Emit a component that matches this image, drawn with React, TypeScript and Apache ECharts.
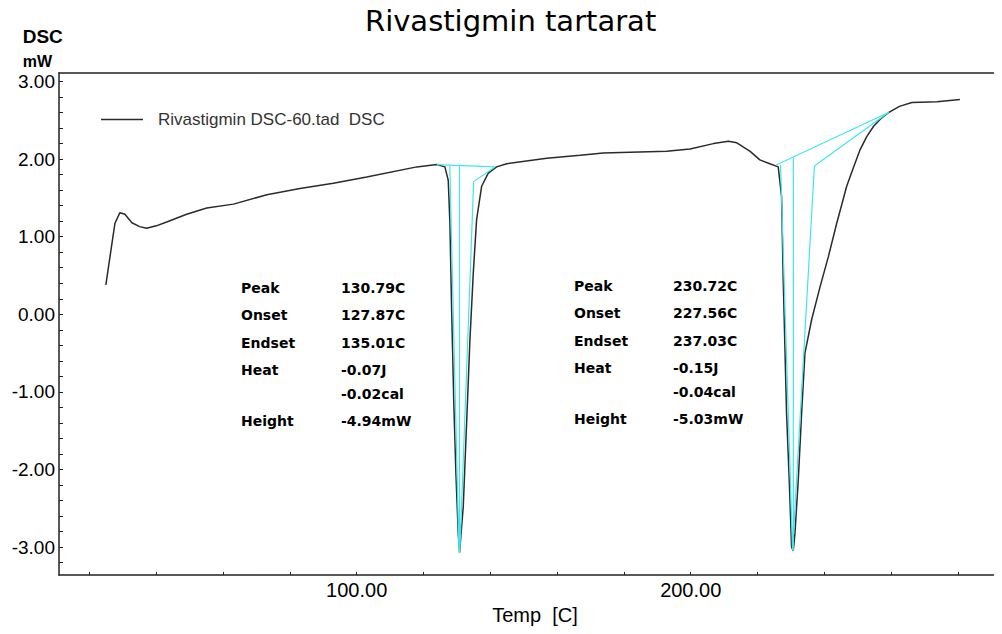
import React, { useEffect, useRef } from "react";
import * as echarts from "echarts";

// ---------- data ----------
const chartTitle = "Rivastigmin tartarat";
const seriesName = "Rivastigmin DSC-60.tad  DSC";
const xAxisName = "Temp  [C]";
const yAxisName = "DSC";
const yAxisUnit = "mW";

// temperature (°C) and DSC signal (mW)
const temps = [
  24.9, 27.6, 29.1, 30.6, 32.7, 35.0, 37.1, 40.0, 43.1, 49.1, 55.1, 63.1, 73.1,
  83.0, 93.0, 103.0, 118.0, 124.0, 126.4, 127.4, 127.9, 128.4, 129.1, 129.7,
  130.4, 130.8, 131.9, 132.9, 133.9, 134.9, 135.9, 137.4, 139.4, 141.9, 144.9,
  156.9, 166.9, 173.8, 192.8, 199.8, 206.8, 211.3, 213.8, 217.8, 220.7, 223.7,
  226.2, 227.2, 227.7, 228.2, 228.7, 229.5, 230.2, 230.7, 231.2, 232.2, 233.2,
  234.2, 236.2, 238.7, 241.2, 243.7, 246.7, 248.7, 250.7, 252.7, 254.7, 256.9,
  259.2, 262.5, 266.2, 273.7, 280.6,
];
const dsc = [
  0.38, 1.17, 1.31, 1.29, 1.18, 1.13, 1.11, 1.14, 1.19, 1.29, 1.37, 1.42, 1.54,
  1.62, 1.69, 1.77, 1.9, 1.93, 1.9, 1.73, 1.18, 0.1, -1.19, -2.05, -2.83, -3.07,
  -2.48, -1.41, -0.33, 0.53, 1.22, 1.65, 1.82, 1.9, 1.94, 2.01, 2.05, 2.08, 2.1,
  2.13, 2.2, 2.23, 2.21, 2.1, 1.99, 1.94, 1.9, 1.52, 0.44, -0.42, -1.28, -2.14,
  -3.0, -3.05, -2.83, -2.14, -1.28, -0.5, -0.07, 0.35, 0.74, 1.17, 1.65, 1.89,
  2.12, 2.29, 2.42, 2.52, 2.6, 2.68, 2.73, 2.74, 2.77,
];

// analysis construction lines (cyan), [temp, mW]
const peak1Baseline = [[124.0, 1.93], [141.4, 1.9]];
const peak1Onset = [[127.87, 1.91], [130.6, -3.04]];
const peak1Vertical = [[130.79, 1.91], [130.79, -3.07]];
const peak1Endset = [[141.4, 1.9], [135.01, 1.71], [130.9, -3.04]];
const peak2Baseline = [[225.6, 1.925], [259.2, 2.6]];
const peak2Onset = [[226.9, 1.92], [230.5, -3.04]];
const peak2Vertical = [[230.72, 2.01], [230.72, -3.05]];
const peak2Endset = [[259.2, 2.6], [237.03, 1.91], [230.5, -3.04]];

// result tables
const resultLabels = ["Peak", "Onset", "Endset", "Heat", "", "Height"];
const peak1Values = ["130.79C", "127.87C", "135.01C", "-0.07J", "-0.02cal", "-4.94mW"];
const peak2Values = ["230.72C", "227.56C", "237.03C", "-0.15J", "-0.04cal", "-5.03mW"];

// axes
const xMin = 10.87;
const xMax = 293.2;
const yMin = -3.36;
const yMax = 3.11;
const xTickValues = [20, 40, 60, 80, 100, 120, 140, 160, 180, 200, 220, 240, 260, 280];
const xLabelValues = [100, 200];
const yTickValues = [
  -3.2, -3.0, -2.8, -2.6, -2.4, -2.2, -2.0, -1.8, -1.6, -1.4, -1.2, -1.0, -0.8,
  -0.6, -0.4, -0.2, 0, 0.2, 0.4, 0.6, 0.8, 1.0, 1.2, 1.4, 1.6, 1.8, 2.0, 2.2,
  2.4, 2.6, 2.8, 3.0,
];
const yLabelValues = [-3, -2, -1, 0, 1, 2, 3];

// ---------- chart ----------
const ARIAL = '"Liberation Sans", Arial, sans-serif';
const VERDANA = '"DejaVu Sans", Verdana, sans-serif';
const CYAN = "#3fe6ef";

function joinSegments(segs: number[][][]) {
  const out: any[] = [];
  segs.forEach((s, i) => {
    if (i > 0) out.push(["-", "-"]);
    s.forEach((p) => out.push(p));
  });
  return out;
}

export default function App() {
  const ref = useRef<HTMLDivElement>(null);

  useEffect(() => {
    if (!ref.current) return;
    const chart = echarts.init(ref.current, undefined, { renderer: "svg" });

    const mainData = temps.map((t, i) => [t, dsc[i]]);
    const cyanData = joinSegments([
      peak1Baseline, peak1Onset, peak1Vertical, peak1Endset,
      peak2Baseline, peak2Onset, peak2Vertical, peak2Endset,
    ]);

    const rowOffsets = [0, 27, 54.5, 81.5, 106, 133];
    const tableText = (x: number, y: number, text: string) => ({
      type: "text",
      x,
      y,
      silent: true,
      style: {
        text,
        fontFamily: VERDANA,
        fontSize: 14,
        fontWeight: "bold",
        fill: "#000",
        align: "left",
        verticalAlign: "middle",
      },
    });
    const tables: any[] = [];
    resultLabels.forEach((lab, i) => {
      if (lab) tables.push(tableText(241, 288 + rowOffsets[i], lab));
      tables.push(tableText(341, 288 + rowOffsets[i], peak1Values[i]));
      if (lab) tables.push(tableText(574, 286.3 + rowOffsets[i], lab));
      tables.push(tableText(673, 286.3 + rowOffsets[i], peak2Values[i]));
    });

    const axisLineStyle = { color: "#222", width: 1.5 };

    chart.setOption({
      animation: false,
      backgroundColor: "#fff",
      title: {
        text: chartTitle,
        left: 365,
        top: 6,
        padding: 0,
        textStyle: { fontFamily: VERDANA, fontSize: 29, fontWeight: "normal", color: "#000" },
      },
      legend: {
        data: [seriesName],
        left: 101,
        top: 111,
        padding: 0,
        icon: "rect",
        itemWidth: 42,
        itemHeight: 1.5,
        selectedMode: false,
        textStyle: { fontFamily: ARIAL, fontSize: 17, color: "#333", padding: [0, 0, 0, 10] },
      },
      grid: { left: 59, right: 0, top: 73, bottom: 59, containLabel: false },
      xAxis: [
        {
          type: "value",
          position: "bottom",
          min: xMin,
          max: xMax,
          name: xAxisName,
          nameLocation: "middle",
          nameGap: 28,
          nameTextStyle: { fontFamily: ARIAL, fontSize: 20, color: "#000", padding: [0, 0, 0, 9] },
          axisLine: { show: true, onZero: false, lineStyle: axisLineStyle },
          axisTick: { show: true, inside: true, length: 3, customValues: xTickValues, lineStyle: { color: "#222" } },
          axisLabel: {
            customValues: xLabelValues,
            formatter: (v: number) => v.toFixed(2),
            fontFamily: ARIAL,
            fontSize: 20,
            color: "#000",
            margin: 5,
          },
          splitLine: { show: false },
        },
        {
          type: "value",
          position: "top",
          min: xMin,
          max: xMax,
          axisLine: { show: true, onZero: false, lineStyle: axisLineStyle },
          axisTick: { show: false },
          axisLabel: { show: false },
          splitLine: { show: false },
        },
      ],
      yAxis: {
        type: "value",
        min: yMin,
        max: yMax,
        axisLine: { show: true, onZero: false, lineStyle: axisLineStyle },
        axisTick: { show: true, inside: true, length: 4, customValues: yTickValues, lineStyle: { color: "#222" } },
        axisLabel: {
          customValues: yLabelValues,
          formatter: (v: number) => v.toFixed(2),
          fontFamily: ARIAL,
          fontSize: 19,
          color: "#000",
          margin: 4,
        },
        splitLine: { show: false },
      },
      series: [
        {
          name: seriesName,
          type: "line",
          data: mainData,
          showSymbol: false,
          symbol: "none",
          lineStyle: { color: "#2b2b2b", width: 1.5 },
          itemStyle: { color: "#2b2b2b" },
          silent: true,
        },
        {
          name: "analysis",
          type: "line",
          data: cyanData,
          showSymbol: false,
          symbol: "none",
          connectNulls: false,
          lineStyle: { color: CYAN, width: 1.2 },
          itemStyle: { color: CYAN },
          silent: true,
        },
      ],
      graphic: [
        {
          type: "text",
          x: 22.7,
          y: 36.3,
          silent: true,
          style: { text: yAxisName, fontFamily: ARIAL, fontSize: 19, fontWeight: "bold", fill: "#000", verticalAlign: "middle" },
        },
        {
          type: "text",
          x: 22.7,
          y: 61,
          silent: true,
          style: { text: yAxisUnit, fontFamily: ARIAL, fontSize: 16, fontWeight: "bold", fill: "#000", verticalAlign: "middle" },
        },
        ...tables,
      ],
    });

    return () => chart.dispose();
  }, []);

  return <div ref={ref} style={{ width: 1002, height: 634, margin: "-8px 0 0 -8px" }} />;
}
